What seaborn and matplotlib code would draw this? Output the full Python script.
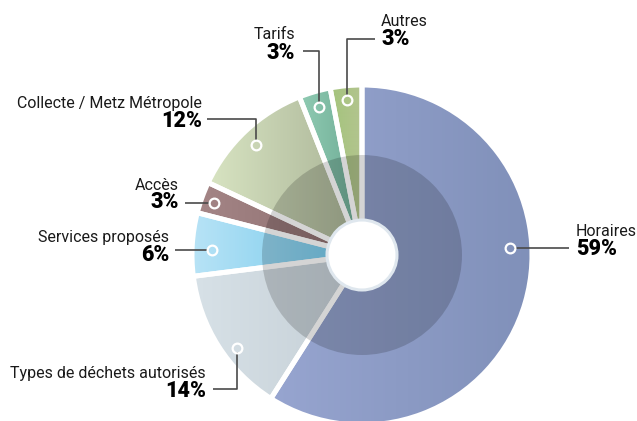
import numpy as np
import matplotlib.pyplot as plt
import seaborn as sns
from matplotlib.patches import Circle

# data
categories = ['Horaires', 'Types de déchets autorisés', 'Services proposés', 'Accès',
              'Collecte / Metz Métropole', 'Tarifs', 'Autres']
shares = [59, 14, 6, 3, 12, 3, 3]

# horizontal gradient of each slice (left -> right)
colors_left = ['#97a5d0', '#d7e1e7', '#b8e3f6', '#a48586', '#d8e4c2', '#90cbb3', '#a4c47c']
colors_right = ['#8090b9', '#c5cfd6', '#6cc7eb', '#8c6d6e', '#a9b396', '#6dab94', '#b3c48f']

# label layout in pixels from the top-left corner:
# marker angle (deg), marker radius, elbow y (None = straight), line end x, text x, align
layout = [
    (2.7, 148, None, 569, 576, 'left'),
    (216.6, 156, 389, 213, 206, 'right'),
    (178.0, 150, None, 175, 169, 'right'),
    (160.6, 157, None, 185, 179, 'right'),
    (133.9, 153, 119, 207, 202, 'right'),
    (106.2, 154, 51, 303, 295, 'right'),
    (95.5, 156, 39, 375, 381, 'left'),
]
name_baselines = [236, 378, 242, 190, 108, 39, 26]
pct_baselines = [255, 397, 261, 208, 127, 59, 45]

W, H = 637, 421
cx, cy = 362, H - 255
R_OUT, R_IN, R_HOLE = 170, 100, 35

sns.set_style('white')
plt.rcParams['font.family'] = ['Roboto', 'DejaVu Sans']

fig = plt.figure(figsize=(W / 100, H / 100), dpi=100)
ax = fig.add_axes([0, 0, 1, 1])

wedges, _ = ax.pie(shares, startangle=90, counterclock=False, radius=R_OUT, center=(cx, cy),
                   wedgeprops=dict(facecolor='none', edgecolor='white', linewidth=3.6))

grad = np.linspace(0, 1, 256).reshape(1, -1)
for wedge, c0, c1 in zip(wedges, colors_left, colors_right):
    wedge.set_zorder(2)
    x0, y0, x1, y1 = wedge.get_path().get_extents().extents
    cmap = sns.blend_palette([c0, c1], as_cmap=True)
    im = ax.imshow(grad, cmap=cmap, extent=(x0, x1, y0, y1), aspect='auto',
                   interpolation='bilinear', zorder=1)
    im.set_clip_path(wedge)

# darker inner ring and white hole
ax.add_patch(Circle((cx, cy), R_IN, facecolor='black', alpha=0.17, edgecolor='none', zorder=3))
ax.add_patch(Circle((cx, cy), R_HOLE, facecolor='white', edgecolor='#dfe7ee', linewidth=2.2, zorder=4))

for name, share, (ang, r, elbow, xend, xt, ha), yb1, yb2 in zip(
        categories, shares, layout, name_baselines, pct_baselines):
    mx = cx + r * np.cos(np.radians(ang))
    my = cy + r * np.sin(np.radians(ang))
    if elbow is None:
        sgn = np.sign(xend - mx)
        xs, ys = [mx + 4 * sgn, xend], [my, my]
    else:
        sgn = np.sign((H - elbow) - my)
        xs, ys = [mx, mx, xend], [my + 4 * sgn, H - elbow, H - elbow]
    ax.plot(xs, ys, color='#4a4a4a', lw=1.2, zorder=5, solid_capstyle='butt')
    ax.plot(mx, my, 'o', ms=7, mfc='none', mec='white', mew=1.6, zorder=6)
    ax.text(xt, H - yb1, name, ha=ha, va='baseline', fontsize=11.5, color='#1a1a1a')
    ax.text(xt, H - yb2, f'{share}%', ha=ha, va='baseline', fontsize=15.5,
            fontweight='heavy', color='black')

ax.set_xlim(0, W)
ax.set_ylim(0, H)
ax.set_aspect('auto')
ax.axis('off')

fig.savefig('out.png', dpi=100)
